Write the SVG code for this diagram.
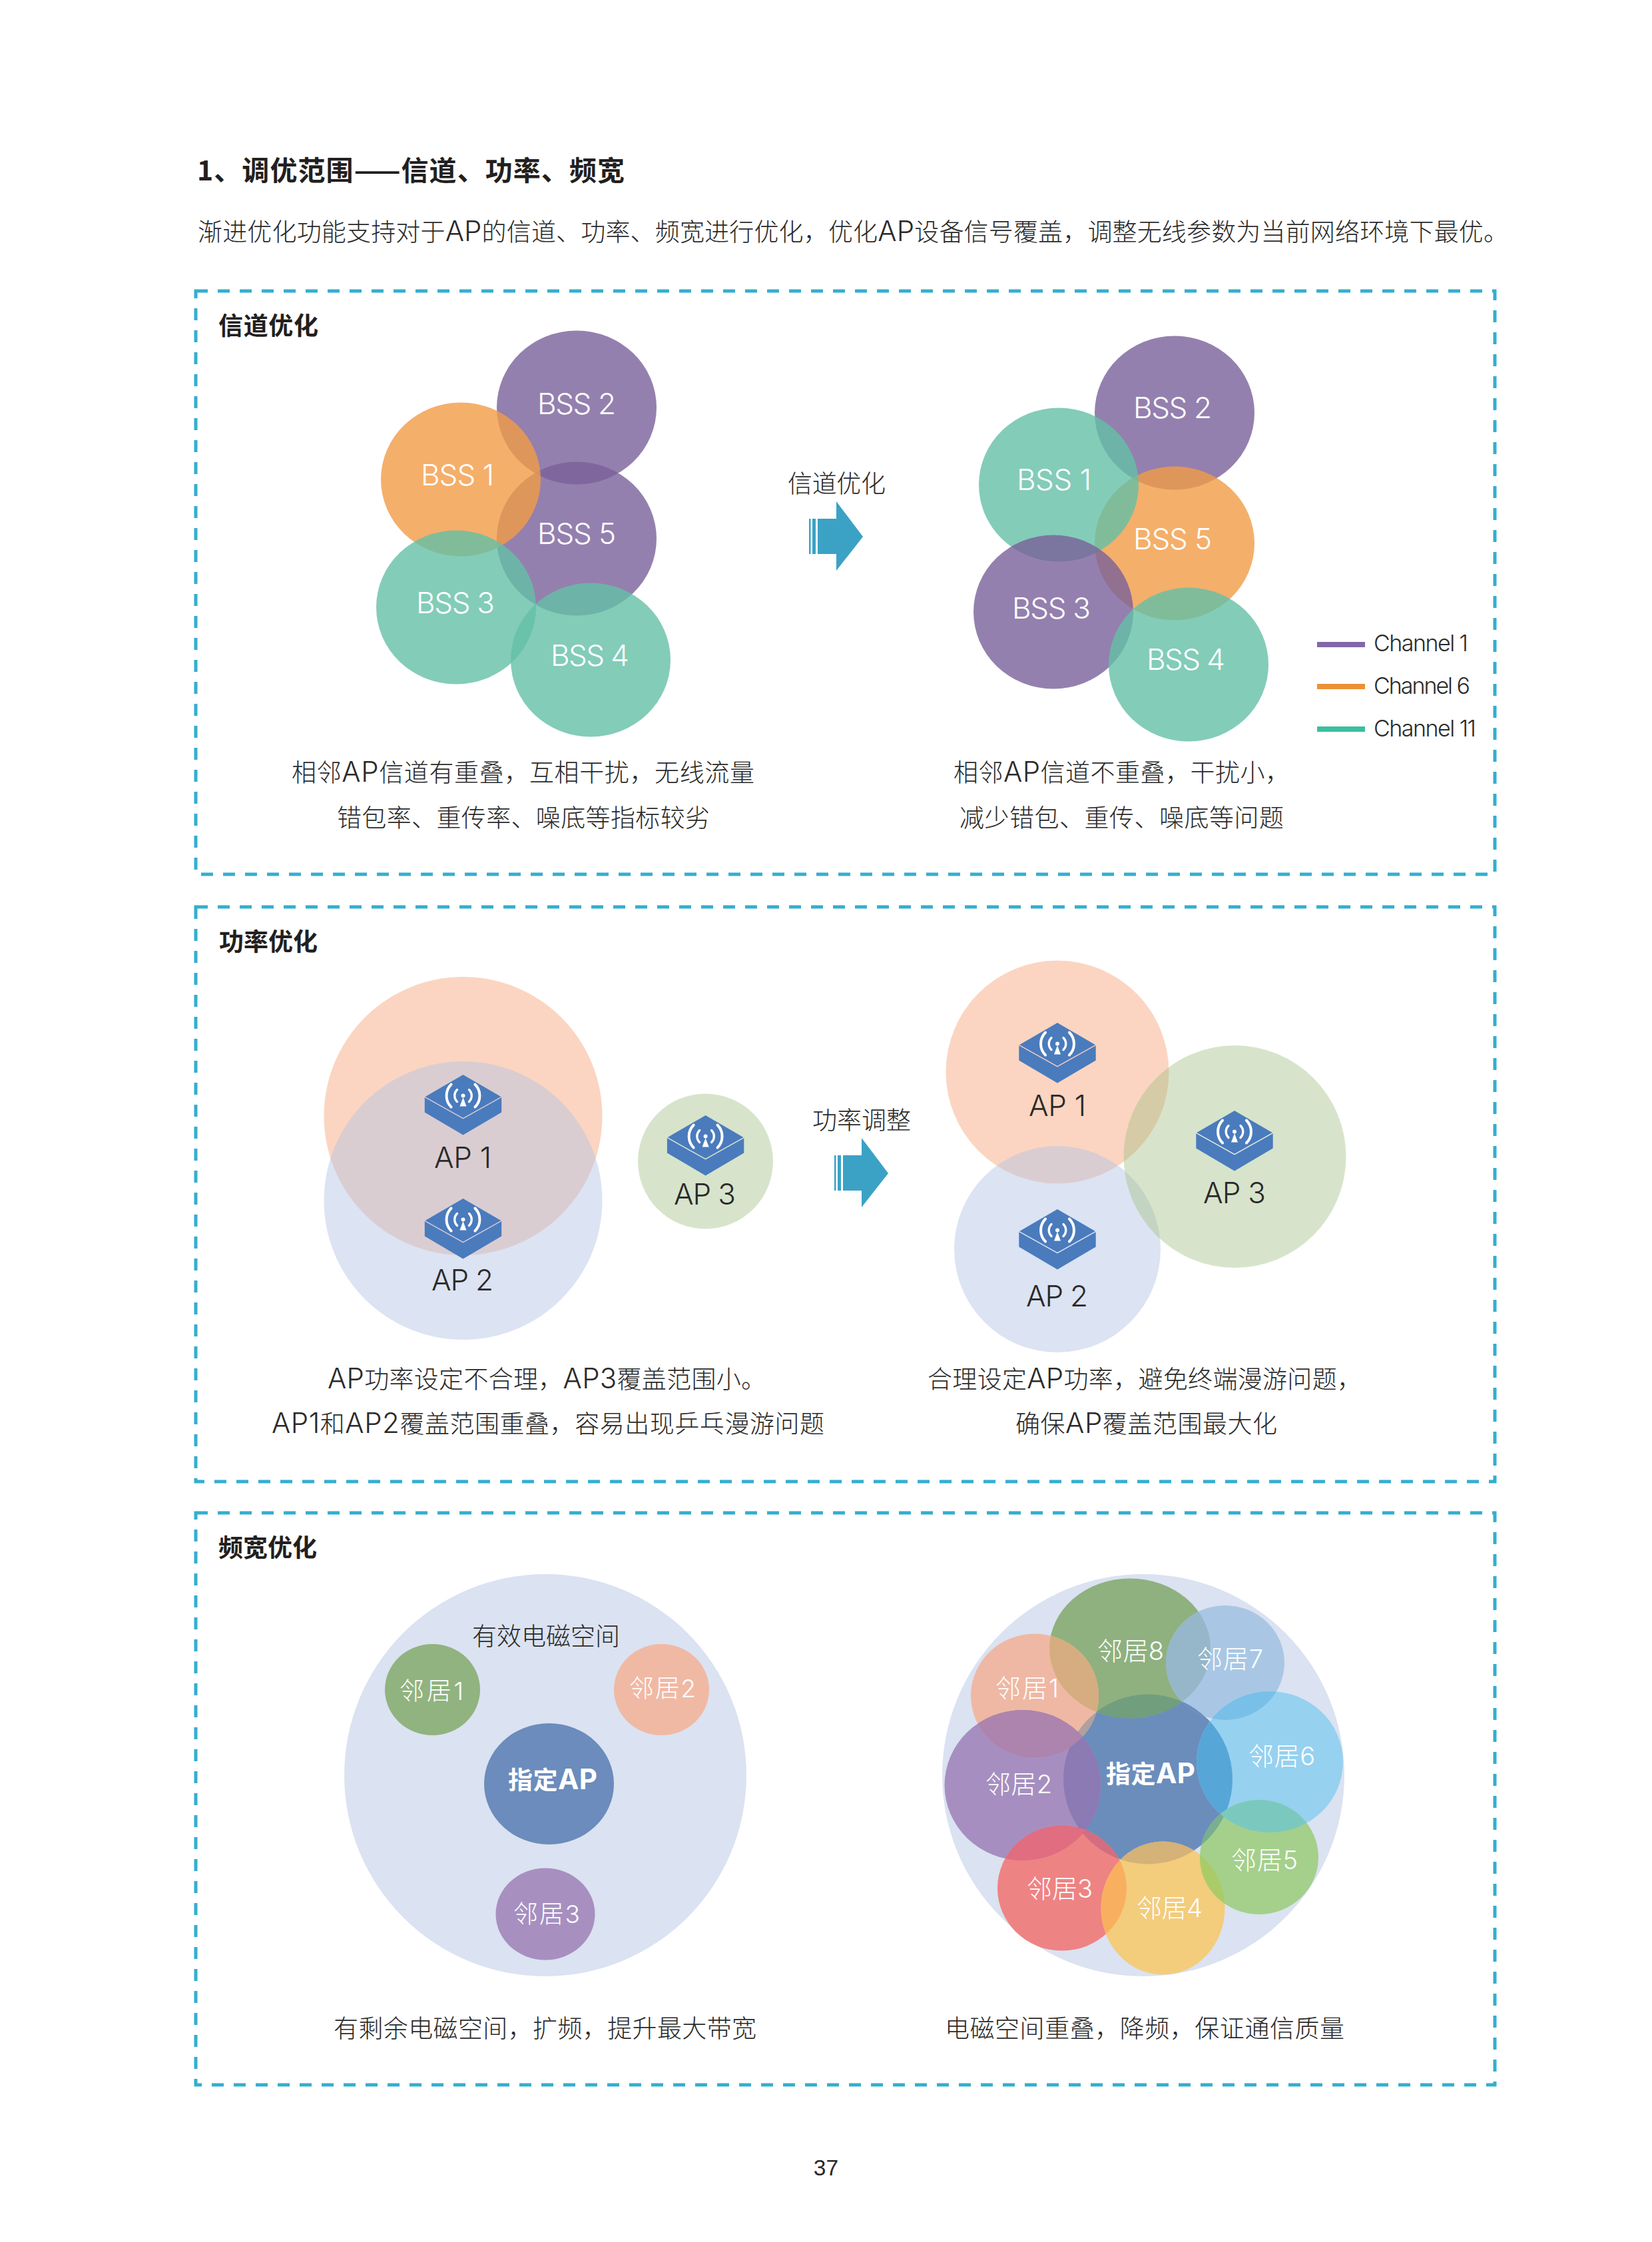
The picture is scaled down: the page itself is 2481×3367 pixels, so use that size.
<svg xmlns="http://www.w3.org/2000/svg" width="2481" height="3367" viewBox="0 0 2481 3367">
<style>
text{font-family:"Inter","Noto Sans CJK SC",sans-serif;font-weight:300;fill:#2a2a2a;font-size:37px}
.b{font-weight:700;fill:#231f20}
.w{fill:#fff}
.m{text-anchor:middle}
.l{font-size:44px}
.a{font-size:42px}
.frame{fill:none;stroke:#34aed0;stroke-width:5;stroke-dasharray:18 15}
.p{fill:#79609a;opacity:.8}
.o{fill:#f19b46;opacity:.8}
.t{fill:#64bfa6;opacity:.8}
.apo{fill:#fbd5c1}
.apb{fill:#b6c5e4;opacity:.48}
.apg{fill:#a0be83;opacity:.42}
.n{font-size:38px}
.leg{font-size:34px}
</style>
<defs>
<g id="arrow"><polygon points="13,-27 41,-27 41,-53 81,0 41,51 41,26 13,26" fill="#3ba2c6"/><rect x="0" y="-27" width="2.5" height="53" fill="#3ba2c6"/><rect x="5" y="-27" width="5" height="53" fill="#3ba2c6"/></g>
<g id="ap">
<polygon points="0,0 57.7,33.4 57.7,56.4 0,90.5 -57.7,56.4 -57.7,33.4" fill="#4a7bbd"/>
<polyline points="-57.7,33.4 0,65.7 57.7,33.4" fill="none" stroke="currentColor" stroke-width="1.6"/>
<path fill="none" stroke="#fff" stroke-width="4" stroke-linecap="round" d="M-17.9,14.5A24,24 0 0 0 -17.9,48.5M17.9,14.5A24,24 0 0 1 17.9,48.5"/>
<path fill="none" stroke="#fff" stroke-width="3.4" stroke-linecap="round" d="M-9,22.5A12.7,12.7 0 0 0 -9,40.5M9,22.5A12.7,12.7 0 0 1 9,40.5"/>
<circle cx="0" cy="31.5" r="3" fill="#fff"/><polygon points="0,34 5,47.5 -5,47.5" fill="#fff"/>
</g>
<clipPath id="c1"><ellipse cx="1554" cy="2546.6" rx="96" ry="93"/></clipPath>
<clipPath id="c2"><ellipse cx="1536" cy="2681" rx="117.5" ry="113"/></clipPath>
<clipPath id="c3"><ellipse cx="1595" cy="2835.6" rx="97" ry="94"/></clipPath>
<clipPath id="c4"><ellipse cx="1746.5" cy="2865.5" rx="93" ry="100"/></clipPath>
<clipPath id="c6"><ellipse cx="1907" cy="2646" rx="110" ry="106"/></clipPath>
<clipPath id="c7"><ellipse cx="1840" cy="2497" rx="89" ry="86"/></clipPath>
<clipPath id="c8"><ellipse cx="1697" cy="2475.6" rx="121" ry="105"/></clipPath>
<clipPath id="ca"><ellipse cx="1724" cy="2672" rx="127" ry="127.5"/></clipPath>
</defs>
<rect width="2481" height="3367" fill="#fff"/>

<g id="header">
<text class="b" x="296" y="271" style="font-size:41px;font-family:'Noto Sans CJK SC',sans-serif" textLength="642">1、调优范围——信道、功率、频宽</text>
<text x="297" y="362" textLength="1968">渐进优化功能支持对于<tspan class="a">AP</tspan>的信道、功率、频宽进行优化&#xFF0C;优化<tspan class="a">AP</tspan>设备信号覆盖&#xFF0C;调整无线参数为当前网络环境下最优。</text>
</g>

<g id="frames">
<rect class="frame" x="294" y="437" width="1951" height="876"/>
<rect class="frame" x="294" y="1362" width="1951" height="863"/>
<rect class="frame" x="294" y="2272" width="1951" height="859"/>
</g>

<g id="connectors">
<use href="#arrow" x="1215" y="806"/>
<use href="#arrow" x="1253" y="1762"/>
</g>

<g id="channel-section">
<text class="b" x="328" y="503" textLength="150">信道优化</text>
<g id="l-bss2"><ellipse class="p" cx="866" cy="612" rx="120" ry="115.5"/></g>
<g id="l-bss5"><ellipse class="p" cx="866" cy="809" rx="120" ry="115.5"/></g>
<g id="l-bss1"><ellipse class="o" cx="692" cy="720" rx="120" ry="115.5"/></g>
<g id="l-bss3"><ellipse class="t" cx="685" cy="912" rx="120" ry="115.5"/></g>
<g id="l-bss4"><ellipse class="t" cx="887" cy="991" rx="120" ry="115.5"/></g>
<text class="w l" x="807" y="622" textLength="118">BSS 2</text>
<text class="w l" x="632" y="729" textLength="110">BSS 1</text>
<text class="w l" x="807" y="817" textLength="118">BSS 5</text>
<text class="w l" x="625" y="921" textLength="118">BSS 3</text>
<text class="w l" x="827" y="1000" textLength="118">BSS 4</text>
<text x="438" y="1174" textLength="695">相邻<tspan class="a">AP</tspan>信道有重叠&#xFF0C;互相干扰&#xFF0C;无线流量</text>
<text x="506" y="1242" textLength="560">错包率、重传率、噪底等指标较劣</text>
<text x="1183" y="740" textLength="147">信道优化</text>
<g id="r-bss2"><ellipse class="p" cx="1764" cy="620" rx="120" ry="115.5"/></g>
<g id="r-bss5"><ellipse class="o" cx="1764" cy="816" rx="120" ry="115.5"/></g>
<g id="r-bss1"><ellipse class="t" cx="1590" cy="728" rx="120" ry="115.5"/></g>
<g id="r-bss3"><ellipse class="p" cx="1582" cy="919" rx="120" ry="115.5"/></g>
<g id="r-bss4"><ellipse class="t" cx="1785" cy="998" rx="120" ry="115.5"/></g>
<text class="w l" x="1702" y="628" textLength="118">BSS 2</text>
<text class="w l" x="1527" y="736" textLength="112">BSS 1</text>
<text class="w l" x="1702" y="825" textLength="118">BSS 5</text>
<text class="w l" x="1520" y="929" textLength="118">BSS 3</text>
<text class="w l" x="1722" y="1006" textLength="118">BSS 4</text>
<text x="1432" y="1174" textLength="505">相邻<tspan class="a">AP</tspan>信道不重叠&#xFF0C;干扰小&#xFF0C;</text>
<text x="1441" y="1242" textLength="487">减少错包、重传、噪底等问题</text>
<g id="legend">
<rect x="1978" y="964" width="72" height="8" fill="#8368a8"/>
<rect x="1978" y="1027" width="72" height="8" fill="#ec9135"/>
<rect x="1978" y="1091" width="72" height="8" fill="#3bbf9f"/>
<text class="leg" x="2063" y="978" textLength="142">Channel 1</text>
<text class="leg" x="2063" y="1042" textLength="145">Channel 6</text>
<text class="leg" x="2063" y="1106" textLength="154">Channel 11</text>
</g>
</g>

<g id="power-section">
<text class="b" x="329" y="1428" textLength="148">功率优化</text>
<g id="l-ap1"><circle class="apo" cx="695.5" cy="1676" r="209"/></g>
<g id="l-ap2"><circle class="apb" cx="695.5" cy="1803" r="209"/></g>
<g id="l-ap3"><circle class="apg" cx="1059.5" cy="1744" r="101.5"/></g>
<use href="#ap" x="695.5" y="1614" style="color:#d6c8d3"/>
<use href="#ap" x="695.5" y="1800" style="color:#d6c8d3"/>
<use href="#ap" x="1059.6" y="1675" style="color:#d7e4cb"/>
<text class="l" x="652" y="1754" textLength="86">AP 1</text>
<text class="l" x="648" y="1938" textLength="93">AP 2</text>
<text class="l" x="1012" y="1808.5" textLength="93">AP 3</text>
<text x="492" y="2085" textLength="658"><tspan class="a">AP</tspan>功率设定不合理&#xFF0C;<tspan class="a">AP3</tspan>覆盖范围小。</text>
<text x="408" y="2152" textLength="830"><tspan class="a">AP1</tspan>和<tspan class="a">AP2</tspan>覆盖范围重叠&#xFF0C;容易出现乒乓漫游问题</text>
<text x="1220" y="1696" textLength="148">功率调整</text>
<g id="r-ap1"><circle class="apo" cx="1588" cy="1610" r="167.5"/></g>
<g id="r-ap2"><circle class="apb" cx="1588" cy="1876" r="155"/></g>
<g id="r-ap3"><circle class="apg" cx="1854.5" cy="1737" r="167"/></g>
<use href="#ap" x="1588" y="1536" style="color:#f5c9c0"/>
<use href="#ap" x="1588" y="1816" style="color:#dce3f2"/>
<use href="#ap" x="1854" y="1668" style="color:#e4ecd9"/>
<text class="l" x="1545" y="1676" textLength="86">AP 1</text>
<text class="l" x="1541" y="1962" textLength="93">AP 2</text>
<text class="l" x="1807" y="1806.5" textLength="94">AP 3</text>
<text x="1393" y="2085" textLength="652">合理设定<tspan class="a">AP</tspan>功率&#xFF0C;避免终端漫游问题&#xFF0C;</text>
<text x="1525" y="2152" textLength="393">确保<tspan class="a">AP</tspan>覆盖范围最大化</text>
</g>

<g id="bandwidth-section">
<text class="b" x="328" y="2338" textLength="148">频宽优化</text>
<g id="l-space"><circle fill="#dbe2f1" cx="819" cy="2666" r="302"/><text x="709" y="2471" textLength="222">有效电磁空间</text></g>
<g id="l-n1"><ellipse fill="#91b37f" cx="649.5" cy="2537.5" rx="71.5" ry="68.5"/><text class="w" x="600" y="2553" textLength="96">邻居1</text></g>
<g id="l-n2"><ellipse fill="#f0b9a4" cx="993.5" cy="2537.5" rx="71.5" ry="68.5"/><text class="w" x="945" y="2549" textLength="100">邻居2</text></g>
<g id="l-ap"><ellipse fill="#6b8cbc" cx="824.5" cy="2679" rx="97.5" ry="91"/><text class="b" style="fill:#fff" x="763" y="2687" textLength="134">指定<tspan class="a">AP</tspan></text></g>
<g id="l-n3"><ellipse fill="#a78fc0" cx="819" cy="2874.5" rx="74.5" ry="69"/><text class="w" x="771" y="2888" textLength="100">邻居3</text></g>
<text x="501" y="3060" textLength="635">有剩余电磁空间&#xFF0C;扩频&#xFF0C;提升最大带宽</text>

<g id="r-space"><circle fill="#dbe2f1" cx="1717" cy="2666" r="302"/></g>
<g id="r-ap"><ellipse fill="#6b8dbc" cx="1724" cy="2672" rx="127" ry="127.5"/></g>
<g id="r-n8"><ellipse fill="#8fb17f" cx="1697" cy="2475.6" rx="121" ry="105"/></g>
<g id="r-n7"><ellipse fill="#a9c7e4" cx="1840" cy="2497" rx="89" ry="86"/></g>
<g id="r-n1"><ellipse fill="#efb8a4" cx="1554" cy="2546.6" rx="96" ry="93"/></g>
<g id="r-n2"><ellipse fill="#a68fc0" cx="1536" cy="2681" rx="117.5" ry="113"/></g>
<g id="r-n3"><ellipse fill="#ee8383" cx="1595" cy="2835.6" rx="97" ry="94"/></g>
<g id="r-n4"><ellipse fill="#f3cc7c" cx="1746.5" cy="2865.5" rx="93" ry="100"/></g>
<g id="r-n6"><ellipse fill="#96d1f0" cx="1907" cy="2646" rx="110" ry="106"/></g>
<g id="r-n5"><ellipse fill="#a4d08b" cx="1891" cy="2789" rx="89" ry="86"/></g>
<g id="overlaps">
<ellipse clip-path="url(#ca)" fill="#719e7d" cx="1697" cy="2475.6" rx="121" ry="105"/>
<ellipse clip-path="url(#ca)" fill="#6b8dbc" cx="1840" cy="2497" rx="89" ry="86"/>
<ellipse clip-path="url(#c8)" fill="#95b7c9" cx="1840" cy="2497" rx="89" ry="86"/>
<ellipse clip-path="url(#ca)" fill="#b0a0a0" cx="1554" cy="2546.6" rx="96" ry="93"/>
<ellipse clip-path="url(#c8)" fill="#d6ad80" cx="1554" cy="2546.6" rx="96" ry="93"/>
<ellipse clip-path="url(#ca)" fill="#8c7ab4" cx="1536" cy="2681" rx="117.5" ry="113"/>
<ellipse clip-path="url(#c1)" fill="#ad84ad" cx="1536" cy="2681" rx="117.5" ry="113"/>
<ellipse clip-path="url(#ca)" fill="#d26e80" cx="1595" cy="2835.6" rx="97" ry="94"/>
<ellipse clip-path="url(#c2)" fill="#e06d80" cx="1595" cy="2835.6" rx="97" ry="94"/>
<ellipse clip-path="url(#ca)" fill="#d4b278" cx="1746.5" cy="2865.5" rx="93" ry="100"/>
<ellipse clip-path="url(#c3)" fill="#f8b060" cx="1746.5" cy="2865.5" rx="93" ry="100"/>
<ellipse clip-path="url(#ca)" fill="#57a6d8" cx="1907" cy="2646" rx="110" ry="106"/>
<ellipse clip-path="url(#c7)" fill="#78c0e8" cx="1907" cy="2646" rx="110" ry="106"/>
<ellipse clip-path="url(#ca)" fill="#7aae90" cx="1891" cy="2789" rx="89" ry="86"/>
<ellipse clip-path="url(#c4)" fill="#abcb69" cx="1891" cy="2789" rx="89" ry="86"/>
<ellipse clip-path="url(#c6)" fill="#7bc9be" cx="1891" cy="2789" rx="89" ry="86"/>
</g>
<g id="r-labels">
<text class="w n" x="1648" y="2493" textLength="100">邻居8</text>
<text class="w n" x="1798" y="2505" textLength="99">邻居7</text>
<text class="w n" x="1495" y="2549" textLength="95">邻居1</text>
<text class="w n" x="1480" y="2693" textLength="100">邻居2</text>
<text class="w n" x="1542" y="2850" textLength="99">邻居3</text>
<text class="w n" x="1707" y="2879" textLength="99">邻居4</text>
<text class="w n" x="1849" y="2807" textLength="100">邻居5</text>
<text class="w n" x="1875" y="2651" textLength="100">邻居6</text>
<text class="b" style="fill:#fff" x="1661" y="2678" textLength="134">指定<tspan class="a">AP</tspan></text>
</g>
<text x="1419" y="3060" textLength="600">电磁空间重叠&#xFF0C;降频&#xFF0C;保证通信质量</text>
</g>

<text id="page" class="m" x="1240.5" y="3267" style="font-family:'Liberation Sans',sans-serif;font-weight:400;font-size:33.5px">37</text>
</svg>
